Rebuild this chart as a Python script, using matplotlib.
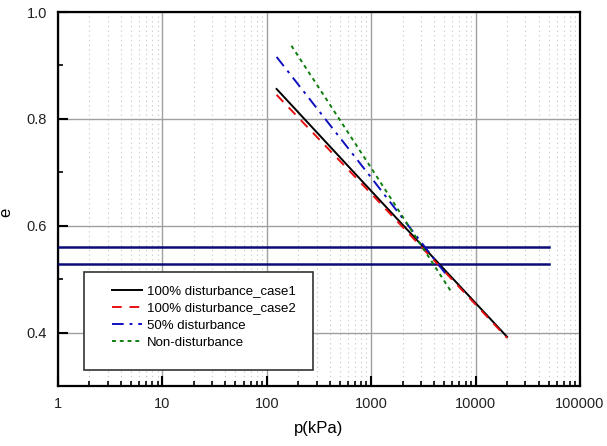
import matplotlib
matplotlib.use('Agg')
import matplotlib.pyplot as plt
from matplotlib.patches import Rectangle
from matplotlib.ticker import LogLocator, FixedLocator, NullFormatter
import numpy as np

plt.rcParams['font.family'] = ['Liberation Sans', 'DejaVu Sans']

# ── e - log p curves ──
p_case1 = [124, 1000, 20000]
e_case1 = [0.856, 0.665, 0.392]

p_case2 = [124, 1000, 20000]
e_case2 = [0.845, 0.660, 0.390]

p_half = [124, 1000, 5400]
e_half = [0.916, 0.690, 0.505]

p_none = [172, 1000, 5900]
e_none = [0.937, 0.708, 0.475]

# horizontal reference lines
h_levels = [0.561, 0.528]
h_span = [1, 50000]

labels = ['100% disturbance_case1', '100% disturbance_case2',
          '50% disturbance', 'Non-disturbance']

fig = plt.figure(figsize=(6.07, 4.46), dpi=100)
ax = fig.add_axes([0.0956, 0.1345, 0.86, 0.8385])

ax.set_xscale('log')
ax.set_xlim(1, 100000)
ax.set_ylim(0.3, 1.0)

# grid: solid at majors, dotted at x minors
ax.grid(True, which='major', color='#a0a0a0', linewidth=1.0, linestyle='-', zorder=0)
ax.grid(True, which='minor', axis='x', color='#cccccc', linewidth=0.8,
        linestyle=(0, (1.2, 3)), zorder=0)
ax.grid(False, which='minor', axis='y')

for lv in h_levels:
    ax.plot(h_span, [lv, lv], color='#0c0c78', linewidth=1.8, zorder=3)

l1, = ax.plot(p_case1, e_case1, color='black', linewidth=1.4, zorder=4)
l2, = ax.plot(p_case2, e_case2, color='#e81010', linewidth=1.4,
              linestyle=(0, (5, 4)), zorder=4)
l3, = ax.plot(p_half, e_half, color='#1010c0', linewidth=1.4,
              linestyle=(0, (6, 3, 1.5, 3)), zorder=4)
l4, = ax.plot(p_none, e_none, color='#0f7f0f', linewidth=1.4,
              linestyle=(0, (2, 2)), zorder=4)

# ticks
ax.set_yticks([0.4, 0.6, 0.8, 1.0])
ax.set_yticklabels(['0.4', '0.6', '0.8', '1.0'])
ax.yaxis.set_minor_locator(FixedLocator([0.3, 0.5, 0.7, 0.9]))
ax.xaxis.set_minor_locator(LogLocator(base=10, subs=np.arange(2, 10), numticks=20))
ax.xaxis.set_minor_formatter(NullFormatter())
ax.set_xticks([1, 10, 100, 1000, 10000, 100000])
ax.set_xticklabels(['1', '10', '100', '1000', '10000', '100000'])

ax.tick_params(which='major', direction='in', length=7, width=1.5,
               labelsize=10.5, colors='black', pad=8, top=False, right=False)
ax.tick_params(which='minor', direction='in', length=3.5, width=1.2,
               top=False, right=False)
ax.tick_params(axis='both', labelcolor='#222222')

for s in ax.spines.values():
    s.set_linewidth(1.6)
    s.set_color('black')

ax.set_xlabel('p(kPa)', fontsize=12, labelpad=7)
ax.set_ylabel('e', fontsize=12)
ax.yaxis.set_label_coords(-0.085, 0.465)

# legend with separate frame box
frame = Rectangle((0.0498, 0.043), 0.4387, 0.262, transform=ax.transAxes,
                  facecolor='white', edgecolor='#333333', linewidth=1.2, zorder=5)
ax.add_patch(frame)
leg = ax.legend([l1, l2, l3, l4], labels, loc='upper left',
                bbox_to_anchor=(0.103, 0.27), frameon=False, fontsize=9.5,
                handlelength=2.3, handletextpad=0.35, labelspacing=0.38,
                borderaxespad=0, borderpad=0)
leg.set_zorder(6)

fig.savefig('out.png', dpi=100)
plt.close(fig)
